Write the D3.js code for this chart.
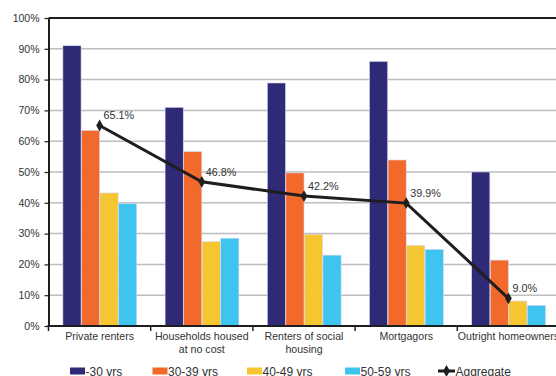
<!DOCTYPE html>
<html>
<head>
<meta charset="utf-8">
<script src="https://cdn.jsdelivr.net/npm/d3@7"></script>
<style>
  html, body { margin: 0; padding: 0; background: #fff; }
  svg { display: block; font-family: "Liberation Sans", Arial, sans-serif; }
</style>
</head>
<body>
<svg id="chart" width="556" height="376"></svg>
<script>
// Housing tenure categories (second line of a label after "\n")
const categories = [
  "Private renters",
  "Households housed\nat no cost",
  "Renters of social\nhousing",
  "Mortgagors",
  "Outright homeowners"
];
const seriesNames = ["-30 yrs", "30-39 yrs", "40-49 yrs", "50-59 yrs"];
const under30   = [91.0, 71.0, 78.9, 85.9, 50.0];
const age30to39 = [63.5, 56.6, 49.7, 53.9, 21.4];
const age40to49 = [43.2, 27.4, 29.8, 26.2, 8.1];
const age50to59 = [39.7, 28.5, 23.0, 24.9, 6.7];
const aggregate = [65.1, 46.8, 42.2, 39.9, 9.0];
const yTicks = [0, 10, 20, 30, 40, 50, 60, 70, 80, 90, 100];

const seriesValues = [under30, age30to39, age40to49, age50to59];
const colors = ["#2e2a76", "#f26a2b", "#f5c631", "#3dc5ef"];

const svg = d3.select("#chart");
const plotLeft = 48.5, plotRight = 559.5, plotTop = 18, plotBottom = 326;

const x0 = d3.scaleBand().domain(categories).range([plotLeft, plotRight]).padding(0);
const x1 = d3.scaleBand().domain(seriesNames)
  .range([14, x0.bandwidth() - 14]).padding(0);
const y = d3.scaleLinear().domain([0, 100]).range([plotBottom, plotTop]);

// gridlines
svg.append("g").selectAll("line")
  .data(yTicks.filter(t => t > 0 && t < 100))
  .join("line")
  .attr("x1", plotLeft).attr("x2", 556)
  .attr("y1", d => y(d)).attr("y2", d => y(d))
  .attr("stroke", "#bdbdc2").attr("stroke-width", 1.5);

// bars
const groups = svg.append("g").selectAll("g")
  .data(categories)
  .join("g")
  .attr("transform", d => `translate(${x0(d)},0)`);

groups.selectAll("rect")
  .data((c, i) => seriesNames.map((s, k) => ({ s, k, v: seriesValues[k][i] })))
  .join("rect")
  .attr("x", d => x1(d.s) + 0.4)
  .attr("width", x1.bandwidth() - 0.4)
  .attr("y", d => y(d.v))
  .attr("height", d => plotBottom - y(d.v))
  .attr("fill", d => colors[d.k])
  .attr("stroke", "#d8d6ee")
  .attr("stroke-width", 0.6);

// top border line
svg.append("line")
  .attr("x1", plotLeft).attr("x2", 556)
  .attr("y1", y(100)).attr("y2", y(100))
  .attr("stroke", "#1e1e1e").attr("stroke-width", 2);

// y axis
const yAxis = svg.append("g")
  .attr("transform", `translate(${plotLeft},0)`)
  .call(d3.axisLeft(y).tickValues(yTicks).tickFormat(d => d + "%")
    .tickSize(4).tickSizeOuter(0));
yAxis.select(".domain").attr("stroke", "#1e1e1e").attr("stroke-width", 2);
yAxis.selectAll(".tick line").attr("stroke", "#1e1e1e").attr("stroke-width", 1.2);
yAxis.selectAll(".tick text")
  .attr("x", -9)
  .attr("fill", "#333")
  .style("font-size", "10.5px")
  .style("font-family", "'Liberation Sans', Arial, sans-serif");

// x axis with ticks at category boundaries
const xAxisG = svg.append("g");
xAxisG.append("line")
  .attr("x1", plotLeft - 1).attr("x2", 556)
  .attr("y1", plotBottom).attr("y2", plotBottom)
  .attr("stroke", "#1e1e1e").attr("stroke-width", 2);
xAxisG.selectAll("line.bound")
  .data(categories)
  .join("line")
  .attr("class", "bound")
  .attr("x1", d => x0(d)).attr("x2", d => x0(d))
  .attr("y1", plotBottom).attr("y2", plotBottom + 5)
  .attr("stroke", "#1e1e1e").attr("stroke-width", 1.5);

xAxisG.selectAll("text")
  .data(categories)
  .join("text")
  .attr("x", d => x0(d) + x0.bandwidth() / 2)
  .attr("y", 340)
  .attr("text-anchor", "middle")
  .attr("fill", "#333")
  .style("font-size", "10.6px")
  .each(function (d) {
    const lines = d.split("\n");
    d3.select(this).selectAll("tspan")
      .data(lines)
      .join("tspan")
      .attr("x", x0(d) + x0.bandwidth() / 2)
      .attr("dy", (l, i) => i === 0 ? 0 : 12.5)
      .text(l => l);
  });

// aggregate line
const cx = d => x0(d) + x0.bandwidth() / 2;
const line = d3.line()
  .x((v, i) => cx(categories[i]))
  .y(v => y(v));
svg.append("path")
  .datum(aggregate)
  .attr("d", line)
  .attr("fill", "none")
  .attr("stroke", "#1f1d1e")
  .attr("stroke-width", 3);

const diamond = d3.symbol().type(d3.symbolDiamond).size(40);
svg.append("g").selectAll("path")
  .data(aggregate)
  .join("path")
  .attr("transform", (v, i) => `translate(${cx(categories[i])},${y(v)})`)
  .attr("d", diamond)
  .attr("fill", "#1f1d1e");

svg.append("g").selectAll("text")
  .data(aggregate)
  .join("text")
  .attr("x", (v, i) => cx(categories[i]) + 4)
  .attr("y", v => y(v) - 6)
  .attr("fill", "#333")
  .style("font-size", "10.8px")
  .text(v => v.toFixed(1) + "%");

// legend
const legendItems = [
  { name: seriesNames[0], color: colors[0], x: 70 },
  { name: seriesNames[1], color: colors[1], x: 152.5 },
  { name: seriesNames[2], color: colors[2], x: 247 },
  { name: seriesNames[3], color: colors[3], x: 345 }
];
const legendY = 371;
const lg = svg.append("g");
legendItems.forEach(it => {
  lg.append("rect")
    .attr("x", it.x).attr("y", legendY - 3.5)
    .attr("width", 15).attr("height", 7)
    .attr("fill", it.color);
  lg.append("text")
    .attr("x", it.x + 15.5).attr("y", legendY + 4.5)
    .attr("fill", "#333")
    .style("font-size", "12px")
    .text(it.name);
});
lg.append("line")
  .attr("x1", 438).attr("x2", 455)
  .attr("y1", legendY).attr("y2", legendY)
  .attr("stroke", "#1f1d1e").attr("stroke-width", 3);
lg.append("path")
  .attr("transform", `translate(446.5,${legendY})`)
  .attr("d", diamond)
  .attr("fill", "#1f1d1e");
lg.append("text")
  .attr("x", 455.5).attr("y", legendY + 4.5)
  .attr("fill", "#333")
  .style("font-size", "12px")
  .text("Aggregate");
</script>
</body>
</html>
